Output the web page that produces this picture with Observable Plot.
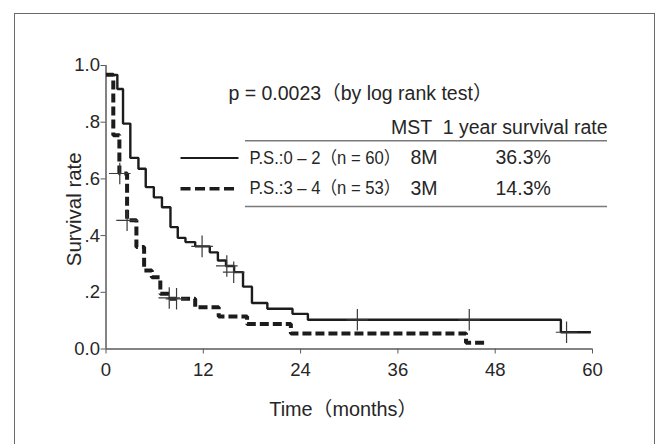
<!DOCTYPE html>
<html><head><meta charset="utf-8">
<script src="https://cdn.jsdelivr.net/npm/d3@7"></script>
<script src="https://cdn.jsdelivr.net/npm/@observablehq/plot@0.6"></script>
<style>
body{margin:0;background:#fff;}
#wrap{position:relative;width:669px;height:444px;overflow:hidden;background:#fff;}
#border{position:absolute;left:14px;top:13px;width:641px;height:470px;border:1.5px solid #6a6a6a;box-sizing:border-box;}
#chart{position:absolute;left:0;top:0;}
#chart svg{display:block;overflow:visible;}
</style></head><body>
<div id="wrap"><div id="border"></div><div id="chart"></div></div>
<script>
// ---- data ----
const groupNames = ["P.S.:0 – 2（n = 60）", "P.S.:3 – 4（n = 53）"];
const groupMST = ["8M", "3M"];
const groupOneYear = ["36.3%", "14.3%"];

const ps02Times = [0, 1.4, 2.1, 3.0, 4.0, 4.9, 5.9, 6.9, 7.95, 8.85, 9.8, 11.0, 12.8, 13.8, 14.8, 15.8, 16.9, 18.0, 19.9, 23.0, 24.9, 56.1];
const ps02Surv  = [0.967, 0.917, 0.795, 0.674, 0.636, 0.571, 0.535, 0.500, 0.430, 0.392, 0.377, 0.362, 0.341, 0.312, 0.293, 0.271, 0.220, 0.162, 0.142, 0.124, 0.103, 0.059];
const ps02End = 59.8;
const ps02CensorTimes = [11.85, 14.9, 15.75, 31.0, 44.8, 56.8];
const ps02CensorSurv  = [0.362, 0.293, 0.271, 0.103, 0.103, 0.059];

const ps34Times = [0, 0.9, 1.65, 2.6, 3.75, 4.7, 5.65, 6.7, 7.9, 11.0, 13.9, 17.4, 22.8, 44.4];
const ps34Surv  = [0.967, 0.754, 0.619, 0.454, 0.360, 0.277, 0.253, 0.195, 0.177, 0.147, 0.115, 0.088, 0.055, 0.022];
const ps34End = 46.8;
const ps34CensorTimes = [1.7, 2.6, 7.8, 8.7];
const ps34CensorSurv  = [0.619, 0.454, 0.180, 0.177];

const xTickValues = [0, 12, 24, 36, 48, 60];
const yTickValues = [0, 0.2, 0.4, 0.6, 0.8, 1.0];
const yTickLabels = ["0.0", ".2", ".4", ".6", ".8", "1.0"];

const pValueText = "p = 0.0023（by log rank test）";
const headerText = "MST  1 year survival rate";
const xLabel = "Time（months）";
const yLabel = "Survival rate";

// ---- build tables ----
function curve(times, surv, end) {
  const pts = times.map((t, i) => ({t, s: surv[i]}));
  pts.push({t: end, s: surv[surv.length - 1]});
  return pts;
}
const ps02 = curve(ps02Times, ps02Surv, ps02End);
const ps34 = curve(ps34Times, ps34Surv, ps34End);
const censored = [
  ...ps02CensorTimes.map((t, i) => ({t, s: ps02CensorSurv[i]})),
  ...ps34CensorTimes.map((t, i) => ({t, s: ps34CensorSurv[i]}))
];
const rows = groupNames.map((name, i) => ({name, mst: groupMST[i], rate: groupOneYear[i], row: i}));

// ---- layout (legend table placed in data units) ----
const rowY = i => [0.674, 0.565][i];
const ink = "#1c1c1c";
const axisInk = "#5a5a5a";
const textInk = "#262626";
const font = '"Liberation Sans", Arial, "Noto Sans CJK JP", sans-serif';

const chart = Plot.plot({
  width: 669,
  height: 444,
  marginLeft: 105.5,
  marginRight: 77,
  marginTop: 65,
  marginBottom: 95.5,
  style: {fontFamily: font, fontSize: "18px", color: textInk, background: "transparent"},
  x: {domain: [0, 60]},
  y: {domain: [0, 1]},
  marks: [
    Plot.ruleX([0], {y1: 0, y2: 1, stroke: axisInk, strokeWidth: 1.5}),
    Plot.ruleY([0], {x1: 0, x2: 60, stroke: axisInk, strokeWidth: 1.5}),
    Plot.axisY({ticks: yTickValues, tickFormat: d => yTickLabels[yTickValues.indexOf(d)], tickSize: 5, tickPadding: 1, fontSize: 18.5, stroke: axisInk, label: null}),
    Plot.axisX({ticks: xTickValues, tickSize: 5, tickPadding: 9, fontSize: 18.5, stroke: axisInk, label: null}),
    Plot.text([yLabel], {frameAnchor: "left", textAnchor: "middle", rotate: -90, dx: -32, dy: 2, fontSize: 20.5, fill: textInk}),
    Plot.text([xLabel], {frameAnchor: "bottom", dy: 67, dx: -6, fontSize: 19.5, fill: textInk}),

    // survival curves
    Plot.line(ps02, {x: "t", y: "s", curve: "step-after", stroke: ink, strokeWidth: 2.4, strokeLinecap: "butt", strokeLinejoin: "miter"}),
    Plot.line(ps34, {x: "t", y: "s", curve: "step-after", stroke: ink, strokeWidth: 4, strokeDasharray: "9,4", strokeLinecap: "butt", strokeLinejoin: "miter"}),
    Plot.dot(censored, {x: "t", y: "s", symbol: "plus", r: 7, stroke: "#3a3a3a", strokeWidth: 1.2}),

    // legend / table
    Plot.text([pValueText], {x: () => 15.1, y: () => 0.901, textAnchor: "start", fontSize: 19.5, fill: textInk}),
    Plot.text([headerText], {x: () => 61.85, y: () => 0.781, textAnchor: "end", fontSize: 19.5, fill: textInk}),
    Plot.ruleY([0.735, 0.503], {x1: 17.2, x2: 61.85, stroke: "#7a7a7a", strokeWidth: 1.5}),
    Plot.link(rows.filter(d => d.row === 0), {x1: () => 9.19, x2: () => 16.34, y1: d => rowY(d.row), y2: d => rowY(d.row),
      stroke: ink, strokeWidth: 2, strokeLinecap: "butt"}),
    Plot.link(rows.filter(d => d.row === 1), {x1: () => 9.19, x2: () => 16.34, y1: d => rowY(d.row), y2: d => rowY(d.row),
      stroke: ink, strokeWidth: 3.6, strokeDasharray: "10,4.5", strokeLinecap: "butt"}),
    Plot.text(rows, {x: () => 17.7, y: d => rowY(d.row), text: "name", textAnchor: "start", fontSize: 17.5, fill: textInk}),
    Plot.text(rows, {x: () => 37.55, y: d => rowY(d.row), text: "mst", textAnchor: "start", fontSize: 19.5, fill: textInk}),
    Plot.text(rows, {x: () => 48.04, y: d => rowY(d.row), text: "rate", textAnchor: "start", fontSize: 19.5, fill: textInk})
  ]
});
// fit the narrow type of the original table labels
const fitWidths = new Map([[groupNames[0], 151], [groupNames[1], 151], [xLabel, 148]]);
d3.select(chart).selectAll("text").each(function() {
  const w = fitWidths.get(this.textContent);
  if (w) { this.setAttribute("textLength", w); this.setAttribute("lengthAdjust", "spacingAndGlyphs"); }
});
document.getElementById("chart").appendChild(chart);
</script>
</body></html>
